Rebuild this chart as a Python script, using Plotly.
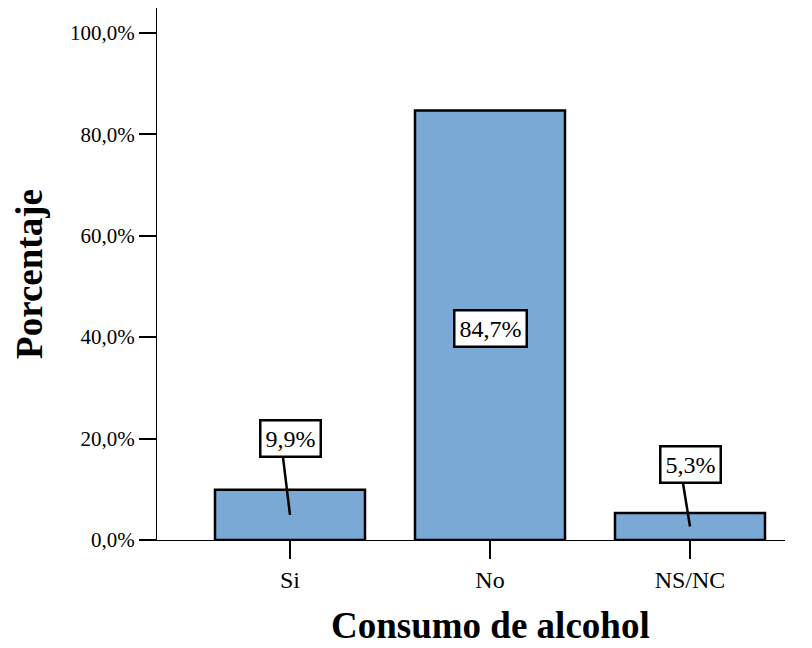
import plotly.graph_objects as go

categorias = ["Si", "No", "NS/NC"]
porcentajes = [9.9, 84.7, 5.3]
etiquetas = ["9,9%", "84,7%", "5,3%"]
y_ticks = [0, 20, 40, 60, 80, 100]
y_tick_text = ["0,0%", "20,0%", "40,0%", "60,0%", "80,0%", "100,0%"]

FONT = "Liberation Serif"

fig = go.Figure()

fig.add_trace(go.Bar(
    x=[0, 1, 2],
    y=porcentajes,
    width=0.75,
    marker=dict(color="#7aa9d6", line=dict(color="black", width=2.5)),
    showlegend=False,
))

# label boxes (positions)
label_pos = [(0, 20.1, -0.035, 16.3), (1, 41.8, None, None), (2, 14.8, 1.965, 11.2)]
for i, (xc, yc, lx, ly) in enumerate(label_pos):
    if lx is not None:
        fig.add_shape(
            type="line", xref="x", yref="y",
            x0=lx, y0=ly, x1=xc, y1=porcentajes[i] / 2,
            line=dict(color="black", width=2.5),
        )
    fig.add_annotation(
        x=xc, y=yc, xref="x", yref="y",
        text=etiquetas[i], showarrow=False,
        font=dict(family=FONT, size=24, color="black"),
        bgcolor="white", bordercolor="black", borderwidth=2.5, borderpad=4,
    )

fig.add_annotation(
    x=1, y=-0.16, xref="x", yref="paper", yanchor="middle",
    text="<b>Consumo de alcohol</b>", showarrow=False,
    font=dict(family=FONT, size=37, color="black"),
)

fig.update_xaxes(
    range=[-0.665, 2.475],
    tickvals=[0, 1, 2], ticktext=categorias,
    ticks="outside", ticklen=18, tickwidth=2, tickcolor="black",
    showline=True, linecolor="black", linewidth=1,
    showgrid=False, zeroline=False,
    tickfont=dict(family=FONT, size=24, color="black"),
)

fig.update_yaxes(
    range=[0, 104.9],
    tickvals=y_ticks, ticktext=y_tick_text,
    ticks="outside", ticklen=17, tickwidth=2, tickcolor="black",
    showline=True, linecolor="black", linewidth=1,
    showgrid=False, zeroline=False,
    tickfont=dict(family=FONT, size=21, color="black"),
    title=dict(text="<b>Porcentaje</b>", font=dict(family=FONT, size=37, color="black"), standoff=16),
)

fig.update_layout(
    width=804, height=640,
    margin=dict(l=149, r=27, t=0, b=108, autoexpand=False),
    plot_bgcolor="white", paper_bgcolor="white",
    font=dict(family=FONT),
)

fig.write_html("out.html")
